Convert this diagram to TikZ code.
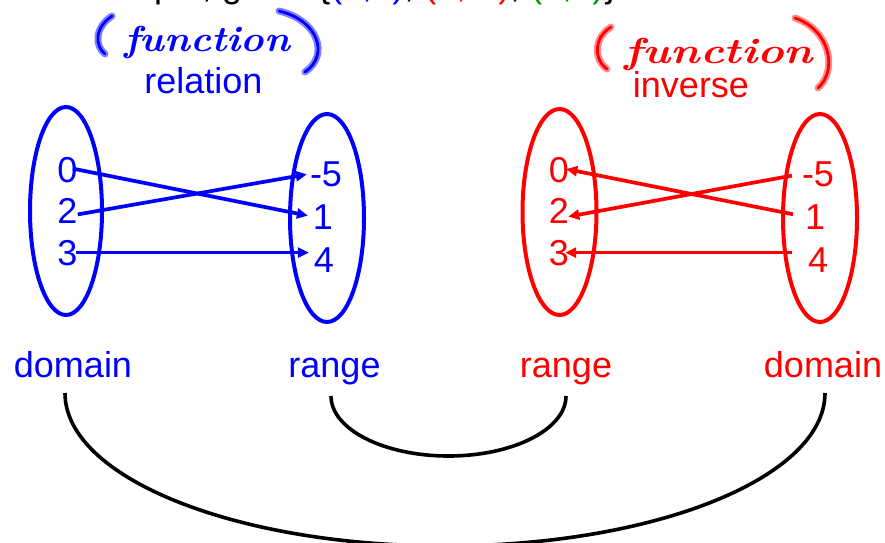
\documentclass[tikz,border=0pt]{standalone}
\usepackage{fontspec}
\setmainfont{Liberation Sans}
\newfontfamily\handfont{Latin Modern Roman}
\usetikzlibrary{arrows.meta}
\begin{document}
\begin{tikzpicture}[x=1pt,y=-1pt,
  lbl/.style={font=\fontsize{36}{40}\selectfont, inner sep=0pt, anchor=base},
  setline/.style={line width=4pt},
  barrow/.style={blue, line width=3.7pt, -{Triangle[length=11pt,width=10pt]}},
  rarrow/.style={red, line width=3.7pt, -{Triangle[length=11pt,width=10pt]}},
  link/.style={black, line width=3.6pt},
  hand/.style={font=\handfont\bfseries\itshape\fontsize{36}{36}\selectfont, inner sep=0pt, anchor=base},
  pen/.style={line width=2.8pt, line cap=round},
]
\useasboundingbox (0,0) rectangle (885,542);

% clipped top line (cut off in the reference as well)
\node[lbl, anchor=base west] (top) at (62,-3)
  {Example, given \{{\color{blue}(0,1)}, {\color{red}(2,-5)}, {\color[rgb]{0,0.6,0}(3,4)}\}};

% handwritten notes
\node[hand, blue, xscale=1.1] (fb) at (207,51) {function};
\draw[pen, blue, preaction={draw, blue!50, line width=7pt, line cap=round}]
  (112,16) .. controls (94,28) and (95,46) .. (105,54);
\draw[pen, blue, preaction={draw, blue!50, line width=7pt, line cap=round}]
  (279,11) .. controls (318,20) and (330,55) .. (305,72);
\node[hand, red, xscale=1.25] (fr) at (719,63) {function};
\draw[pen, red, preaction={draw, red!45, line width=7pt, line cap=round}]
  (611,27) .. controls (593,38) and (594,60) .. (607,69);
\draw[pen, red, preaction={draw, red!45, line width=7pt, line cap=round}]
  (795,18) .. controls (830,30) and (838,70) .. (818,88);

% titles
\node[lbl, blue] (rel) at (203.5,93) {relation};
\node[lbl, red] (inv) at (691,97) {inverse};

% sets (ellipses)
\draw[setline, blue] (66,211) ellipse [x radius=36, y radius=104];
\draw[setline, blue] (327,218) ellipse [x radius=37, y radius=104];
\draw[setline, red] (559.5,212) ellipse [x radius=37, y radius=103];
\draw[setline, red] (820,218) ellipse [x radius=37, y radius=104];

% blue numbers
\node[lbl, blue] (b0) at (67.5,182) {0};
\node[lbl, blue] (b2) at (67.5,223) {2};
\node[lbl, blue] (b3) at (67.5,265) {3};
\node[lbl, blue] (bm5) at (326,186) {-5};
\node[lbl, blue] (b1) at (323,229) {1};
\node[lbl, blue] (b4) at (324,272) {4};

% red numbers
\node[lbl, red] (r0) at (559,182) {0};
\node[lbl, red] (r2) at (559,223) {2};
\node[lbl, red] (r3) at (559,265) {3};
\node[lbl, red] (rm5) at (818,186) {-5};
\node[lbl, red] (r1) at (815,229) {1};
\node[lbl, red] (r4) at (818,272) {4};

% blue arrows
\draw[barrow, shorten <=-5pt, shorten >=5pt] (b0.east) -- (b1.west);
\draw[barrow, shorten >=3pt] ([yshift=-4pt]b2.east) -- (bm5.west);
\draw[barrow, shorten <=-2pt, shorten >=5pt] (b3.east) -- (b3.east -| b4.west);

% red arrows
\draw[rarrow, shorten <=12pt, shorten >=-3pt] (r1.west) -- (r0.east);
\draw[rarrow, shorten <=10pt, shorten >=-1pt] (rm5.west) -- ([yshift=-6pt]r2.east);
\draw[rarrow, shorten <=16pt, shorten >=-4pt] (r3.east -| r4.west) -- (r3.east);

% bottom labels
\node[lbl, blue] (bdom) at (73,377) {domain};
\node[lbl, blue] (bran) at (334.5,377) {range};
\node[lbl, red] (rran) at (566,377) {range};
\node[lbl, red] (rdom) at (823,377) {domain};

% connecting arcs
\coordinate (o1) at (65,393);
\coordinate (o2) at (825,393);
\coordinate (i1) at (331,396);
\coordinate (i2) at (566,396);
\draw[link] (o1) arc[start angle=180, end angle=0, x radius=380, y radius=153];
\draw[link] (i1) arc[start angle=180, end angle=0, x radius=117.5, y radius=60];
\end{tikzpicture}
\end{document}
